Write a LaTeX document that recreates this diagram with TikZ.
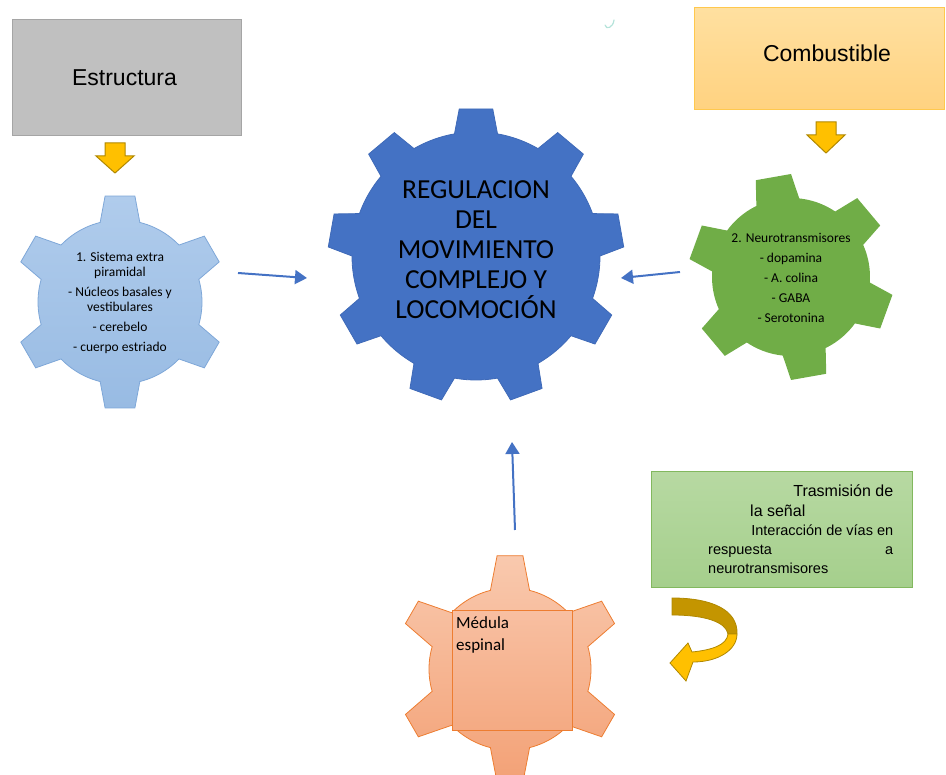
\documentclass[tikz,border=0pt]{standalone}
\usepackage{fontspec}
\setmainfont{Carlito}
\newfontfamily\arialf{Liberation Sans}
\usetikzlibrary{arrows.meta}
\definecolor{cblue}{HTML}{4472C4}
\definecolor{cbluedk}{HTML}{3F6AB8}
\definecolor{lbluetop}{HTML}{B0CCEC}
\definecolor{lbluebot}{HTML}{98BBE3}
\definecolor{lblueln}{HTML}{7EA7D8}
\definecolor{cgreen}{HTML}{70AD47}
\definecolor{orgtop}{HTML}{F9C9AE}
\definecolor{orgbot}{HTML}{F3A176}
\definecolor{orgboxtop}{HTML}{F8BFA1}
\definecolor{orgboxbot}{HTML}{F4AA83}
\definecolor{corange}{HTML}{ED7D31}
\definecolor{graybox}{HTML}{C0C0C0}
\definecolor{grayln}{HTML}{A5A5A5}
\definecolor{ylwtop}{HTML}{FFE0A0}
\definecolor{ylwbot}{HTML}{FFD280}
\definecolor{ylwln}{HTML}{FFC84D}
\definecolor{gboxtop}{HTML}{B7D9A2}
\definecolor{gboxbot}{HTML}{A5CF8C}
\definecolor{gboxln}{HTML}{82B85E}
\definecolor{gold}{HTML}{FFC000}
\definecolor{golddk}{HTML}{C49500}
\definecolor{goldln}{HTML}{B08800}
\definecolor{tealmark}{HTML}{B5E3DA}
\newcommand\mygear[8]{%
  \pgfmathsetmacro\gs{360/#4}%
  \pgfmathtruncatemacro\gn{#4-1}%
  \begin{scope}[shift={#1}]
  \path[#8] ({#5-#6}:#2)
    \foreach \k in {0,...,\gn} {
      -- ({#5+\k*\gs-#7}:#3) -- ({#5+\k*\gs+#7}:#3) -- ({#5+\k*\gs+#6}:#2)
      \foreach \j in {1,...,12} { -- ({#5+\k*\gs+#6+\j*(\gs-2*#6)/12}:#2) }
    } -- cycle;
  \end{scope}}
\tikzset{
  titlebox/.style={rectangle, inner sep=0pt, line width=1pt},
  titletext/.style={inner sep=0pt, font=\arialf\fontsize{23}{27}\selectfont},
  connarrow/.style={draw=cblue, line width=2pt, -{Triangle[length=12pt,width=14pt]}},
  downarrow/.style={fill=gold, draw=goldln, line width=1pt, line join=miter},
  geartext/.style={inner sep=0pt, align=center, font=\fontsize{13.5}{15}\selectfont}
}
\begin{document}
\begin{tikzpicture}[x=1pt, y=-1pt]
\useasboundingbox (0,0) rectangle (946,775);
\clip (0,0) rectangle (946,775);

% gears
\mygear{(476,256)}{124}{148}{9}{-90}{10}{6.5}{fill=cblue, draw=cbluedk, line width=0.8pt}
\mygear{(120,302)}{82}{107}{6}{-90}{14}{8}{top color=lbluetop, bottom color=lbluebot, draw=lblueln, line width=0.8pt}
\mygear{(791,277)}{79}{103}{6}{-100}{16}{10}{fill=cgreen}
\mygear{(510,669)}{81}{114}{6}{-90}{14}{6.5}{top color=orgtop, bottom color=orgbot, draw=corange, line width=0.8pt}

% boxes
\node (estr) [titlebox, draw=grayln, fill=graybox, minimum width=229, minimum height=116] at (126.5,78) {};
\node (estrtxt) [titletext] at (124.5,78) {Estructura};
\node (comb) [titlebox, draw=ylwln, top color=ylwtop, bottom color=ylwbot, minimum width=250, minimum height=102] at (819,59) {};
\node (combtxt) [titletext] at (827,53) {Combustible};
\node (tras) [rectangle, draw=gboxln, line width=1pt, top color=gboxtop, bottom color=gboxbot, minimum width=261, minimum height=116] at (781.5,530) {};
\node (trastxt) [anchor=base west, inner sep=0pt] at (708,497) {\begin{minipage}[t]{185pt}\arialf\parindent=0pt
\fontsize{16}{20}\selectfont
\hfill Trasmisión de\par
\hspace*{42pt}la señal\par
\fontsize{14.5}{19}\selectfont
\hfill Interacción de vías en\par
respuesta\hfill a\par
neurotransmisores\par
\end{minipage}};

% gear texts
\node (central) [inner sep=0pt, align=center, font=\fontsize{27.5}{30}\selectfont] at (476,250) {REGULACION\\DEL\\MOVIMIENTO\\COMPLEJO Y\\LOCOMOCIÓN};
\node (sistema) [geartext] at (120,303) {1. Sistema extra\\piramidal\\[5pt]- Núcleos basales y\\vestibulares\\[5pt]- cerebelo\\[5pt]- cuerpo estriado};
\node (neuro) [geartext, font=\fontsize{13.5}{20}\selectfont] at (791,278) {2. Neurotransmisores\\- dopamina\\- A. colina\\- GABA\\- Serotonina};
\node (medbox) [rectangle, draw=corange, line width=1pt, top color=orgboxtop, bottom color=orgboxbot, minimum width=120, minimum height=120, anchor=north west, inner sep=0pt] at (452,610) {};
\node (medtxt) [anchor=north west, inner sep=0pt, align=left, font=\fontsize{17}{22}\selectfont] at (456,616) {Médula\\espinal};

% yellow down arrows
\path[downarrow] (105,143) -- (125,143) -- (125,156) -- (134,156) -- (115,173) -- (96,156) -- (105,156) -- cycle;
\path[downarrow] (816,122) -- (836,122) -- (836,135) -- (845,135) -- (826,153) -- (807,135) -- (816,135) -- cycle;

% curved arrow
\path[fill=golddk, draw=goldln, line width=0.8pt] (672,598) .. controls (712,598) and (738,610) .. (737,634) -- (728,634) .. controls (726,622) and (705,615) .. (672,615) -- cycle;
\path[fill=gold, draw=goldln, line width=0.8pt, line join=miter] (737,634) .. controls (737,650) and (718,662) .. (693,662) -- (686,681) -- (670,663) -- (688,643) -- (692,652) .. controls (712,650) and (727,645) .. (728,634) -- cycle;

% connectors
\coordinate (a1s) at (238,273);
\coordinate (a1e) at (307,278);
\coordinate (a2s) at (680,272);
\coordinate (a2e) at (621,278);
\coordinate (a3s) at (515,530);
\coordinate (a3e) at (512,442);
\draw[connarrow] (a1s) -- (a1e);
\draw[connarrow] (a2s) -- (a2e);
\draw[connarrow] (a3s) -- (a3e);

% small mark
\draw[tealmark, line width=1.2pt, line cap=round] (614,20) .. controls (613,28) and (606,30) .. (605,25);
\end{tikzpicture}
\end{document}
